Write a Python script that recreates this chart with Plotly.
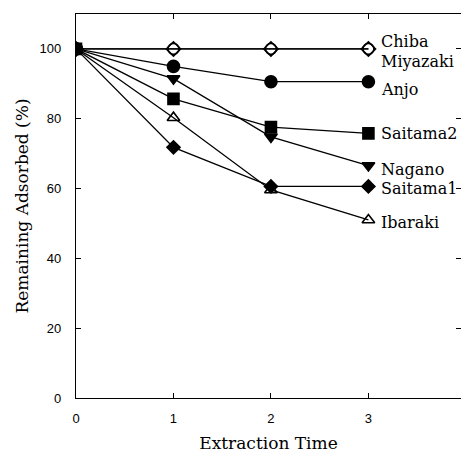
import plotly.graph_objects as go

extraction_time = [0, 1, 2, 3]
chiba = [100, 100, 100, 100]
miyazaki = [100, 100, 100, 100]
anjo = [100, 95.0, 90.6, 90.6]
nagano = [100, 91.5, 74.8, 66.6]
ibaraki = [100, 80.3, 59.6, 51.0]
saitama1 = [100, 71.8, 60.6, 60.6]
saitama2 = [100, 85.7, 77.6, 75.8]

series = [
    ("Chiba", chiba, "circle-open", 11, -7),
    ("Miyazaki", miyazaki, "diamond-open", 11, 13),
    ("Anjo", anjo, "circle", 12, 8),
    ("Nagano", nagano, "triangle-down", 11, 4),
    ("Ibaraki", ibaraki, "triangle-up-open", 11, 3),
    ("Saitama1", saitama1, "diamond", 10, 2),
    ("Saitama2", saitama2, "square", 11, 0),
]

fig = go.Figure()
for name, ys, sym, sz, dy in series:
    fig.add_trace(go.Scatter(
        x=extraction_time, y=ys, mode="lines+markers", name=name,
        line=dict(color="black", width=1.3),
        marker=dict(symbol=sym, size=sz, color="black",
                    line=dict(color="black", width=1.6)),
        showlegend=False,
    ))
    fig.add_annotation(
        x=extraction_time[-1], y=ys[-1], text=name, showarrow=False,
        xanchor="left", yanchor="middle", xshift=11, yshift=-dy,
        font=dict(family="DejaVu Serif", size=16, color="black"),
    )

axis_common = dict(
    showline=True, linecolor="black", linewidth=1.3, mirror="ticks",
    ticks="inside", ticklen=5, tickcolor="black", tickwidth=1.2,
    showgrid=False, zeroline=False,
    tickfont=dict(family="Liberation Sans", size=13, color="black"),
    title_font=dict(family="DejaVu Serif", size=17, color="black"),
)

fig.update_xaxes(range=[0, 3.95], tickvals=[0, 1, 2, 3], title_text="Extraction Time",
                 ticklabelstandoff=8, title_standoff=12, **axis_common)
fig.update_yaxes(range=[0, 110], tickvals=[0, 20, 40, 60, 80, 100],
                 title_text="Remaining Adsorbed (%)", ticklabelstandoff=11,
                 title_standoff=6, **axis_common)

fig.update_layout(
    width=461, height=457,
    margin=dict(l=76, r=0, t=14, b=59),
    plot_bgcolor="white", paper_bgcolor="white",
)

fig.write_html("out.html")
